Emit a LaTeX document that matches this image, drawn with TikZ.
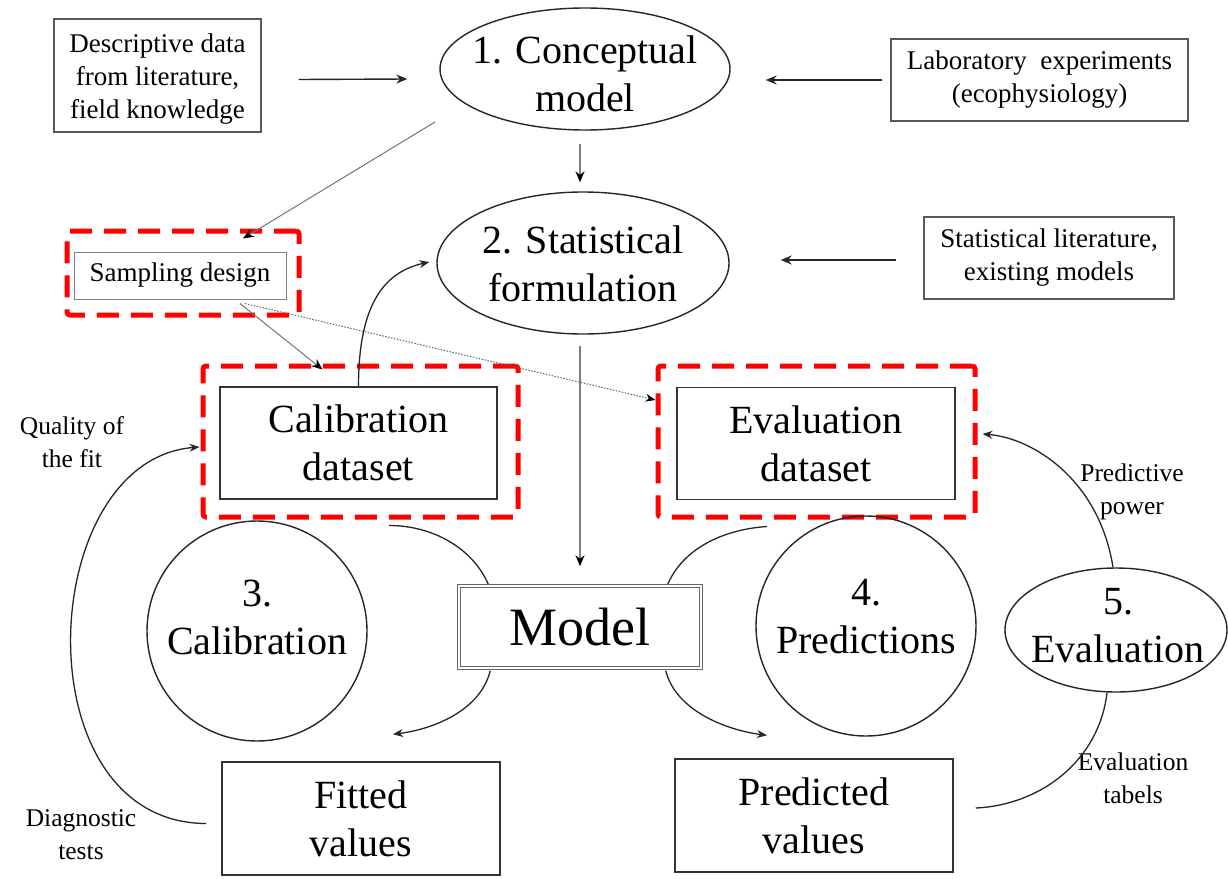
\documentclass[tikz,border=0pt]{standalone}
\usepackage{fontspec}
\setmainfont{Liberation Serif}
\usetikzlibrary{arrows.meta,shapes.geometric}
\begin{document}
\begin{tikzpicture}[x=1pt,y=-1pt,
  bigtxt/.style={font=\fontsize{40}{48}\selectfont},
  midtxt/.style={font=\fontsize{27}{33}\selectfont},
  smalltxt/.style={font=\fontsize{25.5}{33}\selectfont},
  thinbox/.style={draw=black!65, line width=1.2pt, inner sep=0pt, align=center, midtxt},
  bigbox/.style={draw=black!80, line width=1.5pt, inner sep=0pt, align=center, bigtxt},
  ell/.style={ellipse, draw=black!85, line width=1.4pt, inner sep=0pt},
  circ/.style={circle, draw=black!85, line width=1.4pt, inner sep=0pt},
  inner/.style={bigtxt, align=center, inner sep=0pt},
  redbox/.style={draw=red, line width=5pt, dash pattern=on 22pt off 12pt, rounded corners=3pt, inner sep=0pt},
  arr/.style={draw=black!85, line width=1.4pt, -{Stealth[length=11pt,width=9pt]}},
  grayarr/.style={draw=black!50, line width=1.3pt, -{Stealth[length=11pt,width=9pt,color=black]}},
  thingray/.style={draw=black!55, line width=1pt, -{Stealth[length=11pt,width=9pt,color=black]}},
  dotarr/.style={draw=black!60, line width=1pt, dash pattern=on 1.5pt off 1.5pt, -{Stealth[length=10pt,width=8pt,color=black]}},
  curve/.style={draw=black!85, line width=1.3pt},
  curvearr/.style={curve, -{Stealth[length=10pt,width=8pt]}},
  lbl/.style={smalltxt, align=center, inner sep=0pt}
]
\useasboundingbox (0,0) rectangle (1228,878);
\fill[white] (0,0) rectangle (1228,878);

% nodes
\node[thinbox, minimum width=207pt, minimum height=113pt] (desc) at (157.5,75.5) {};
\node[midtxt, align=center, inner sep=0pt] (descT) at (157.5,79) {Descriptive data\\from literature,\\field knowledge};
\node[ell, minimum width=290pt, minimum height=122pt] (concept) at (585,69) {};
\node[inner] (conceptT) at (585,74) {1. Conceptual\\model};
\node[thinbox, minimum width=297pt, minimum height=82pt] (lab) at (1039.5,80) {Laboratory~ experiments\\(ecophysiology)};
\node[ell, minimum width=292pt, minimum height=142pt] (stat) at (583,263) {};
\node[inner] (statT) at (583,264) {2. Statistical\\formulation};
\node[thinbox, minimum width=250pt, minimum height=82pt] (statlit) at (1049,258) {Statistical literature,\\existing models};
\node[thinbox, draw=black!50, line width=1pt, minimum width=212pt, minimum height=47pt] (samp) at (180,275.5) {Sampling design};
\node[redbox, minimum width=232pt, minimum height=84pt] (sampRed) at (183,273) {};
\node[bigbox, minimum width=277pt, minimum height=112pt] (cal) at (358.5,443) {Calibration\\dataset};
\node[redbox, minimum width=315pt, minimum height=151pt] (calRed) at (360.5,441.5) {};
\node[bigbox, minimum width=278pt, minimum height=112pt] (eval) at (816,443.5) {Evaluation\\dataset};
\node[redbox, minimum width=317pt, minimum height=151pt] (evalRed) at (816.5,441.5) {};
\node[draw=black!60, double=white, double distance=1.5pt, line width=1.5pt, inner sep=0pt, minimum width=242pt, minimum height=82pt, font=\fontsize{54}{60}\selectfont] (model) at (580,627) {Model};
\node[circ, minimum size=220pt] (c3) at (257,631) {};
\node[inner] (c3t) at (257,617) {3.\\Calibration};
\node[circ, minimum size=220pt] (c4) at (866,626) {};
\node[inner] (c4t) at (866,617) {4.\\Predictions};
\node[ell, minimum width=222pt, minimum height=124pt] (ev5) at (1116,630) {};
\node[inner] (ev5T) at (1118,626) {5.\\Evaluation};
\node[bigbox, minimum width=278pt, minimum height=113pt] (fit) at (361,818.5) {Fitted\\values};
\node[bigbox, minimum width=278pt, minimum height=113pt] (pred) at (814,815.5) {Predicted\\values};

% labels
\node[lbl] (qf) at (72,442) {Quality of\\the fit};
\node[lbl] (dt) at (81,835) {Diagnostic\\tests};
\node[lbl] (pp) at (1132,492) {Predictive\\power};
\node[lbl] (et) at (1133,778) {Evaluation\\tabels};

% connectors
\draw[arr] ([shift={(37,4)}]desc.east) -- ([shift={(-32,10)}]concept.west);
\draw[arr] ([shift={(-8,0)}]lab.west) -- ([shift={(35,11)}]concept.east);
\draw[grayarr] ([shift={(-5,13)}]concept.south) -- ([shift={(-3,-9)}]stat.north);
\draw[arr] ([shift={(-27,2)}]statlit.west) -- ([shift={(51,-3)}]stat.east);
\coordinate (cs) at (435,122);
\draw[thingray] (cs) -- ([shift={(60,10)}]sampRed.north);
\draw[grayarr] ([shift={(-3,11)}]stat.south) -- ([shift={(0,-19)}]model.north);
\draw[thingray] ([shift={(60,4)}]samp.south) -- ([shift={(-38,6)}]calRed.north);
\draw[dotarr] ([shift={(65,4)}]samp.south) -- ([shift={(0,-41.5)}]evalRed.west);

\draw[curvearr] (cal.north) .. controls +(0,-82) and +(-45,10) .. ([shift={(-7,-1)}]stat.west);
\draw[curve] ([shift={(28.5,6)}]calRed.south) .. controls +(45,0) and +(-15,-35) .. ([shift={(30,-1)}]model.north west);
\draw[curve] ([shift={(-49.5,7)}]evalRed.south) .. controls +(-45,3) and +(15,-35) .. ([shift={(-34,-1)}]model.north east);
\draw[curvearr] ([shift={(32,2)}]model.south west) .. controls +(-10,40) and +(40,-5) .. ([shift={(32,-27)}]fit.north);
\draw[curvearr] ([shift={(-36,2)}]model.south east) .. controls +(10,40) and +(-40,-5) .. ([shift={(-47,-23)}]pred.north);
\draw[curvearr] ([shift={(-15,5)}]fit.west) .. controls (20,823) and (35,460) .. ([shift={(-1,5.5)}]calRed.west);
\draw[curvearr] ([shift={(-3,0)}]ev5.north) .. controls +(-14,-88) and +(50,4) .. ([shift={(5,-7.5)}]evalRed.east);
\draw[curve] ([shift={(-9,0)}]ev5.south) .. controls +(-8,68) and +(65,-3) .. ([shift={(22,-7.5)}]pred.east);
\end{tikzpicture}
\end{document}
